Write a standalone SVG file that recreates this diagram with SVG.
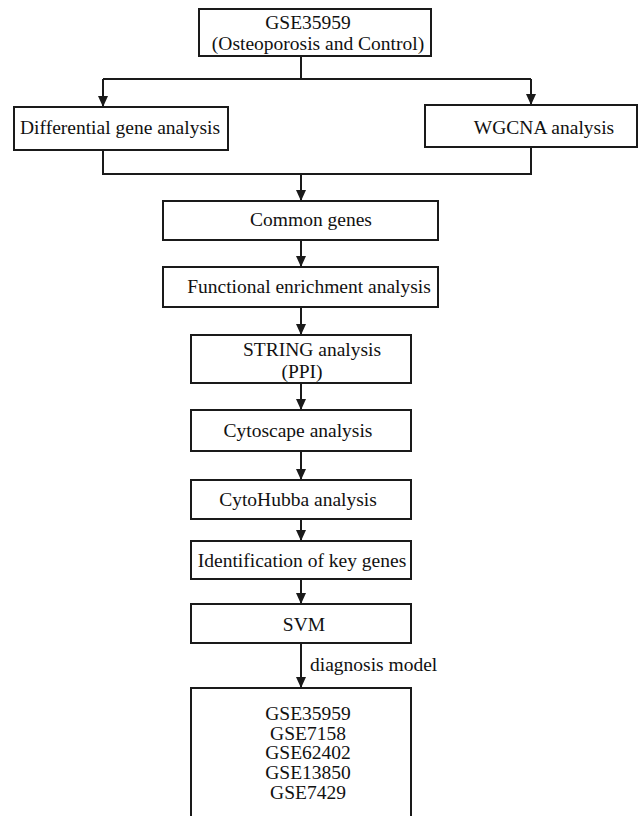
<svg xmlns="http://www.w3.org/2000/svg" width="638" height="816" viewBox="0 0 638 816">
<defs>
<style>
.box{fill:#fff;stroke:#1a1a1a;stroke-width:2}
.ln{fill:none;stroke:#1a1a1a;stroke-width:2}
.t{font-family:"Liberation Serif","Times New Roman",serif;font-size:19.5px;fill:#111;text-anchor:middle}
</style>
<marker id="ah" viewBox="0 0 11 10" refX="11" refY="5" markerWidth="11" markerHeight="10" markerUnits="userSpaceOnUse" orient="auto">
<path d="M0,0 L11,5 L0,10 Z" fill="#1a1a1a"/>
</marker>
</defs>
<rect width="638" height="816" fill="#fff"/>
<g id="connectors">
<path class="ln" d="M301,56 V79"/>
<path class="ln" d="M103,79 H531"/>
<path class="ln" d="M103,79 V107" marker-end="url(#ah)"/>
<path class="ln" d="M531,79 V105" marker-end="url(#ah)"/>
<path class="ln" d="M103,150 V174 H531 V147"/>
<path class="ln" d="M301,174 V201" marker-end="url(#ah)"/>
<path class="ln" d="M301,240 V267" marker-end="url(#ah)"/>
<path class="ln" d="M301,307 V335" marker-end="url(#ah)"/>
<path class="ln" d="M301,383 V410" marker-end="url(#ah)"/>
<path class="ln" d="M301,451 V480" marker-end="url(#ah)"/>
<path class="ln" d="M301,519 V541" marker-end="url(#ah)"/>
<path class="ln" d="M301,579 V604" marker-end="url(#ah)"/>
<path class="ln" d="M301,643 V688" marker-end="url(#ah)"/>
<text class="t" x="310" y="671" style="text-anchor:start">diagnosis model</text>
</g>
<g id="n-gse">
<rect class="box" x="199" y="9" width="232" height="47"/>
<text class="t" x="308" y="29">GSE35959</text>
<text class="t" x="318" y="50">(Osteoporosis and Control)</text>
</g>
<g id="n-diff">
<rect class="box" x="14" y="107" width="214" height="43"/>
<text class="t" x="120" y="134">Differential gene analysis</text>
</g>
<g id="n-wgcna">
<rect class="box" x="425" y="105" width="212" height="42"/>
<text class="t" x="544" y="134">WGCNA analysis</text>
</g>
<g id="n-common">
<rect class="box" x="163" y="201" width="275" height="39"/>
<text class="t" x="311" y="226">Common genes</text>
</g>
<g id="n-func">
<rect class="box" x="163" y="267" width="275" height="40"/>
<text class="t" x="309" y="293">Functional enrichment analysis</text>
</g>
<g id="n-string">
<rect class="box" x="191" y="335" width="220" height="48"/>
<text class="t" x="312" y="356">STRING analysis</text>
<text class="t" x="302" y="378">(PPI)</text>
</g>
<g id="n-cyto">
<rect class="box" x="191" y="410" width="220" height="41"/>
<text class="t" x="298" y="437">Cytoscape analysis</text>
</g>
<g id="n-hubba">
<rect class="box" x="191" y="480" width="220" height="39"/>
<text class="t" x="298" y="506">CytoHubba analysis</text>
</g>
<g id="n-key">
<rect class="box" x="191" y="541" width="220" height="38"/>
<text class="t" x="302" y="567">Identification of key genes</text>
</g>
<g id="n-svm">
<rect class="box" x="191" y="604" width="220" height="39"/>
<text class="t" x="304" y="631">SVM</text>
</g>
<g id="n-datasets">
<rect class="box" x="191" y="688" width="220" height="140"/>
<text class="t" x="308" y="720">GSE35959</text>
<text class="t" x="308" y="740">GSE7158</text>
<text class="t" x="308" y="759">GSE62402</text>
<text class="t" x="308" y="779">GSE13850</text>
<text class="t" x="308" y="799">GSE7429</text>
</g>
</svg>
